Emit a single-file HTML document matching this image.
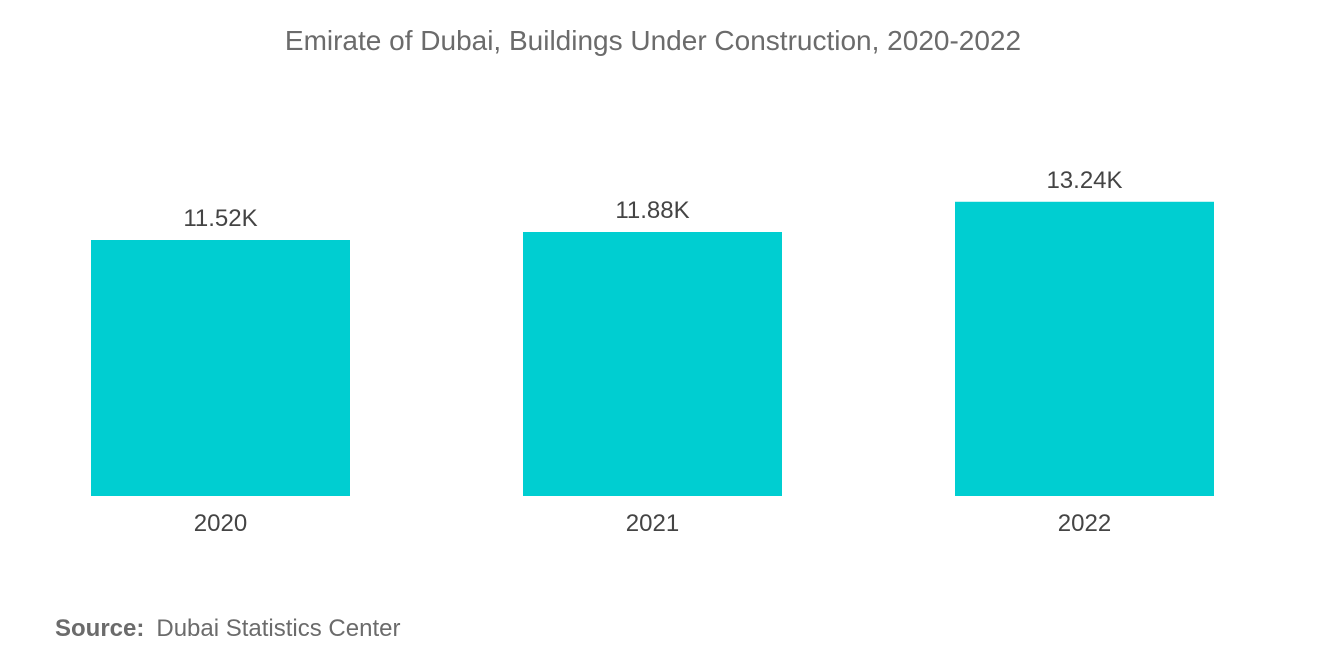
<!DOCTYPE html>
<html><head><meta charset="utf-8"><style>
body{margin:0;background:#fff;font-family:"Liberation Sans",sans-serif;}
svg text{font-family:"Liberation Sans",sans-serif;}
</style></head><body>
<svg width="1320" height="654" viewBox="0 0 1320 654">
<text x="653" y="50" text-anchor="middle" font-size="28" fill="#6b6b6b">Emirate of Dubai, Buildings Under Construction, 2020-2022</text>
<g id="bars"></g>
<text x="55" y="636" font-size="24" fill="#6b6b6b"><tspan font-weight="bold">Source:</tspan><tspan dx="12">Dubai Statistics Center</tspan></text>
</svg>
<script>
const categories=["2020","2021","2022"];
const values=[11.52,11.88,13.24];
const valueLabels=["11.52K","11.88K","13.24K"];
const baseY=496, pxPerUnit=256/11.52, x0=91, step=432, barW=259;
const g=document.getElementById('bars');
const NS="http://www.w3.org/2000/svg";
function yScale(v){return baseY-v*pxPerUnit;}
categories.forEach((c,i)=>{
  const x=x0+i*step, y=yScale(values[i]);
  const r=document.createElementNS(NS,'rect');
  r.setAttribute('x',x);r.setAttribute('y',y);r.setAttribute('width',barW);r.setAttribute('height',baseY-y);r.setAttribute('fill','#00ced1');
  
  
  g.appendChild(r);
  const t=document.createElementNS(NS,'text');
  t.setAttribute('x',x+barW/2);t.setAttribute('y',y-14);t.setAttribute('text-anchor','middle');t.setAttribute('font-size','24');t.setAttribute('fill','#444');
  t.textContent=valueLabels[i];
  
  
  g.appendChild(t);
  const l=document.createElementNS(NS,'text');
  l.setAttribute('x',x+barW/2);l.setAttribute('y',531);l.setAttribute('text-anchor','middle');l.setAttribute('font-size','24');l.setAttribute('fill','#444');
  l.textContent=c;
  
  
  g.appendChild(l);
});
</script>
</body></html>
